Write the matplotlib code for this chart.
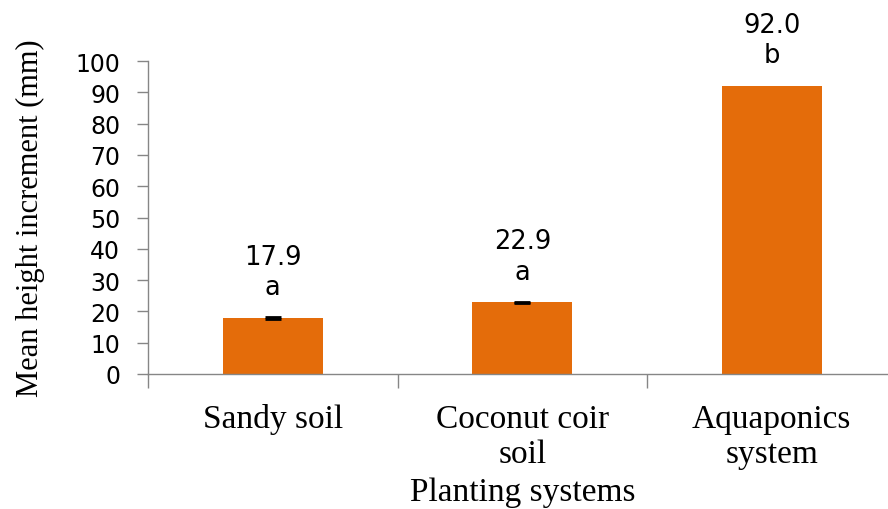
import matplotlib
matplotlib.use('Agg')
import matplotlib.pyplot as plt

# data
systems = ['Sandy soil', 'Coconut coir\nsoil', 'Aquaponics\nsystem']
mean_height = [17.9, 22.9, 92.0]
std_err = [0.2, 0.2, 0.0]
letters = ['a', 'a', 'b']
y_ticks = [0, 10, 20, 30, 40, 50, 60, 70, 80, 90, 100]

BAR = '#E46C0A'
AXIS_GREY = '#868686'
SERIF = ['Liberation Serif', 'DejaVu Serif']
SANS = ['DejaVu Sans']

fig = plt.figure(figsize=(8.88, 5.10), dpi=100)
# plot area: left spine at x=148px, baseline at y=375px, 100 at y=62px
ax = fig.add_axes([148 / 888, (510 - 375) / 510, 748.5 / 888, 313 / 510])

x = list(range(len(systems)))
ax.bar(x, mean_height, width=0.4, color=BAR, zorder=2)

# small error bars (only where visible)
for xi, m, e in zip(x, mean_height, std_err):
    if e > 0:
        ax.errorbar(xi, m, yerr=e, fmt='none', ecolor='black',
                    elinewidth=1.0, capsize=5.5, capthick=2.0, zorder=3)

# value + significance letter above each bar
for xi, m, let in zip(x, mean_height, letters):
    ax.annotate(f'{m:.1f}', (xi, m), xytext=(0, 44), textcoords='offset points',
                ha='center', va='center', fontsize=18.5, family=SANS,
                color='black', annotation_clip=False)
    ax.annotate(let, (xi, m), xytext=(0, 22), textcoords='offset points',
                ha='center', va='center', fontsize=18.5, family=SANS,
                color='black', annotation_clip=False)

ax.set_xlim(-0.5, 2.5)
ax.set_ylim(0, 100)
ax.set_yticks(y_ticks)
ax.set_yticklabels([str(t) for t in y_ticks], fontsize=17, family=SANS,
                   color='black')
ax.tick_params(axis='y', length=8, width=1, color=AXIS_GREY, pad=12)

# category boundaries as tick marks, labels at bar centres
ax.set_xticks([-0.5, 0.5, 1.5, 2.5])
ax.set_xticklabels([])
ax.tick_params(axis='x', which='major', length=10, width=1, color=AXIS_GREY)
ax.set_xticks(x, minor=True)
ax.set_xticklabels(systems, minor=True, fontsize=24, family=SERIF,
                   linespacing=1.22)
ax.tick_params(axis='x', which='minor', length=0, pad=21)

ax.set_xlabel('Planting systems', fontsize=24, family=SERIF, labelpad=5)
ax.set_ylabel('Mean height increment (mm)', fontsize=22, family=SERIF,
              labelpad=22)

for side in ['top', 'right']:
    ax.spines[side].set_visible(False)
for side in ['left', 'bottom']:
    ax.spines[side].set_color(AXIS_GREY)
    ax.spines[side].set_linewidth(1)

fig.savefig('out.png', dpi=100)
